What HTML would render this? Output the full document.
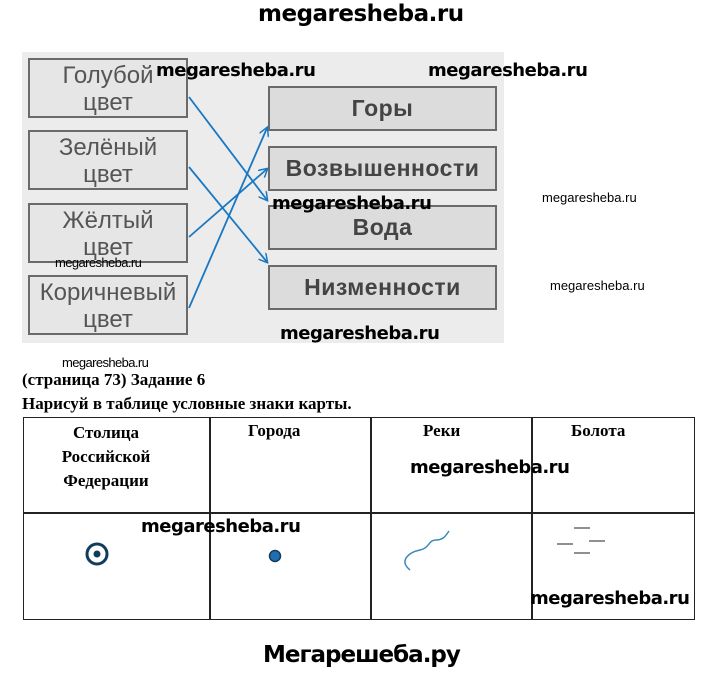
<!DOCTYPE html>
<html><head><meta charset="utf-8"><style>
body{margin:0;width:720px;height:675px;background:#fff;position:relative;overflow:hidden;font-family:"Liberation Sans",sans-serif}
.a{position:absolute}
.wm{position:absolute;font-family:"DejaVu Sans","Liberation Sans",sans-serif;font-weight:bold;color:#000;white-space:nowrap;letter-spacing:-0.5px}
.lb{position:absolute;border:2px solid #6a6a6a;background:#e6e6e6;color:#555;font-size:24px;text-align:center;line-height:27px;box-sizing:border-box}
.rb{position:absolute;border:2px solid #6a6a6a;background:#dcdcdc;color:#444;font-size:23px;font-weight:bold;text-align:center;box-sizing:border-box;letter-spacing:0.5px}
.serif{font-family:"Liberation Serif",serif;font-weight:bold;color:#000}
</style></head><body>
<div class="wm" style="left:258px;top:1px;font-size:23px">megaresheba.ru</div>

<div class="a" style="left:22px;top:52px;width:482px;height:291px;background:#ececec"></div>
<div class="lb" style="left:28px;top:58px;width:160px;height:60px;padding-top:2px">Голубой<br>цвет</div>
<div class="lb" style="left:28px;top:130px;width:160px;height:60px;padding-top:2px">Зелёный<br>цвет</div>
<div class="lb" style="left:28px;top:203px;width:160px;height:60px;padding-top:2px">Жёлтый<br>цвет</div>
<div class="lb" style="left:28px;top:275px;width:160px;height:60px;padding-top:2px">Коричневый<br>цвет</div>
<div class="rb" style="left:268px;top:86px;width:229px;height:45px;line-height:41px">Горы</div>
<div class="rb" style="left:268px;top:146px;width:229px;height:45px;line-height:41px">Возвышенности</div>
<div class="rb" style="left:268px;top:205px;width:229px;height:45px;line-height:41px">Вода</div>
<div class="rb" style="left:268px;top:265px;width:229px;height:45px;line-height:41px">Низменности</div>
<svg class="a" style="left:0;top:0" width="720" height="675">
<defs><marker id="m" markerWidth="10" markerHeight="10" refX="8" refY="5" orient="auto" markerUnits="userSpaceOnUse"><path d="M0,0 L9,5 L0,10" fill="none" stroke="#1a78c2" stroke-width="1.5"/></marker></defs>
<g stroke="#1a78c2" stroke-width="1.8" fill="none" marker-end="url(#m)">
<line x1="189" y1="97" x2="267" y2="200"/>
<line x1="189" y1="167" x2="267" y2="262"/>
<line x1="189" y1="237" x2="267" y2="169"/>
<line x1="189" y1="308" x2="267" y2="128"/>
</g>
</svg>
<div class="wm" style="left:156px;top:60px;font-size:18px">megaresheba.ru</div>
<div class="wm" style="left:428px;top:60px;font-size:18px">megaresheba.ru</div>
<div class="wm" style="left:272px;top:193px;font-size:18px">megaresheba.ru</div>
<div class="wm" style="left:280px;top:323px;font-size:18px">megaresheba.ru</div>
<div class="a" style="left:542px;top:190px;font-size:13px">megaresheba.ru</div>
<div class="a" style="left:550px;top:278px;font-size:13px">megaresheba.ru</div>
<div class="a" style="left:55px;top:255px;font-size:13px;letter-spacing:-0.6px">megaresheba.ru</div>
<div class="a" style="left:62px;top:355px;font-size:13px;letter-spacing:-0.6px">megaresheba.ru</div>

<div class="a serif" style="left:22px;top:370px;font-size:17px">(страница 73) Задание 6</div>
<div class="a serif" style="left:22px;top:394px;font-size:17px">Нарисуй в таблице условные знаки карты.</div>

<div class="a" style="left:23px;top:417px;width:672px;height:203px;border:1.5px solid #222;box-sizing:border-box"></div>
<div class="a" style="left:23px;top:512px;width:672px;height:1.5px;background:#222"></div>
<div class="a" style="left:209px;top:417px;width:1.5px;height:203px;background:#222"></div>
<div class="a" style="left:370px;top:417px;width:1.5px;height:203px;background:#222"></div>
<div class="a" style="left:531px;top:417px;width:1.5px;height:203px;background:#222"></div>
<div class="a serif" style="left:46px;top:421px;width:120px;font-size:17px;line-height:24px;text-align:center">Столица<br>Российской<br>Федерации</div>
<div class="a serif" style="left:248px;top:421px;font-size:17px">Города</div>
<div class="a serif" style="left:423px;top:421px;font-size:17px">Реки</div>
<div class="a serif" style="left:571px;top:421px;font-size:17px">Болота</div>
<svg class="a" style="left:0;top:0" width="720" height="675">
<circle cx="97" cy="554" r="10" fill="none" stroke="#123c5c" stroke-width="3"/>
<circle cx="97" cy="554" r="3.5" fill="#123c5c"/>
<circle cx="275" cy="556" r="5.5" fill="#1f6fb0" stroke="#123c5c" stroke-width="1.5"/>
<path d="M410,570 C398,560 410,552 420,550 C430,548 428,540 436,540 C444,540 446,535 449,531" fill="none" stroke="#3a8ab8" stroke-width="1.5"/>
<g stroke="#555" stroke-width="1.3"><line x1="574" y1="528" x2="590" y2="528"/><line x1="557" y1="544" x2="573" y2="544"/><line x1="589" y1="541" x2="605" y2="541"/><line x1="574" y1="553" x2="590" y2="553"/></g>
</svg>
<div class="wm" style="left:410px;top:457px;font-size:18px">megaresheba.ru</div>
<div class="wm" style="left:141px;top:516px;font-size:18px">megaresheba.ru</div>
<div class="wm" style="left:530px;top:588px;font-size:18px">megaresheba.ru</div>

<div class="wm" style="left:263px;top:642px;font-size:23px;letter-spacing:-1px">Мегарешеба.ру</div>
</body></html>
